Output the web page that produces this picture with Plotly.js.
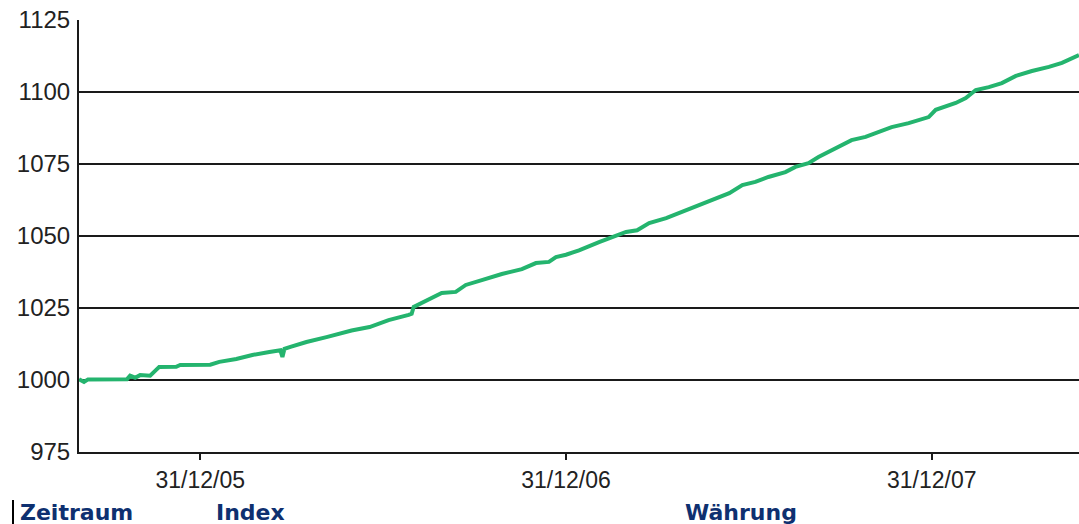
<!DOCTYPE html>
<html>
<head>
<meta charset="utf-8">
<script src="https://cdn.plot.ly/plotly-3.0.1.min.js"></script>
<style>
  html, body { margin: 0; padding: 0; background: #ffffff; }
  #chart { width: 1079px; height: 524px; }
</style>
</head>
<body>
<div id="chart"></div>
<script>
// Data
var dates = [
  "2005-09-01","2005-09-06","2005-09-10","2005-10-19","2005-10-22","2005-10-27",
  "2005-11-01","2005-11-11","2005-11-17","2005-11-20","2005-12-07","2005-12-11",
  "2006-01-10","2006-01-19","2006-02-05","2006-02-21","2006-03-10","2006-03-21",
  "2006-03-23","2006-03-25","2006-03-31","2006-04-16","2006-05-06","2006-05-20",
  "2006-05-31","2006-06-18","2006-07-07","2006-07-27","2006-07-30","2006-08-01",
  "2006-08-13","2006-08-29","2006-09-12","2006-09-22","2006-10-08","2006-10-28",
  "2006-11-17","2006-12-01","2006-12-14","2006-12-21","2006-12-31","2007-01-13",
  "2007-02-02","2007-02-22","2007-03-01","2007-03-12","2007-03-24","2007-04-10",
  "2007-04-23","2007-05-06","2007-05-20","2007-06-02","2007-06-12","2007-06-25",
  "2007-07-08","2007-07-21","2007-08-07","2007-08-17","2007-08-30","2007-09-09",
  "2007-09-19","2007-10-12","2007-10-26","2007-11-08","2007-11-21","2007-12-08",
  "2007-12-28","2008-01-04","2008-01-24","2008-02-03","2008-02-13","2008-02-26",
  "2008-03-10","2008-03-24","2008-04-09","2008-04-26","2008-05-09","2008-05-26"
];
var indexValues = [
  1000.3, 999.3, 1000.2, 1000.3, 1001.5, 1000.8,
  1001.7, 1001.5, 1003.5, 1004.5, 1004.6, 1005.2,
  1005.3, 1006.3, 1007.3, 1008.7, 1009.7, 1010.3,
  1008.0, 1010.8, 1011.5, 1013.2, 1014.9, 1016.3,
  1017.2, 1018.4, 1020.8, 1022.6, 1023.0, 1025.4,
  1027.4, 1030.2, 1030.6, 1033.0, 1034.7, 1036.8,
  1038.5, 1040.6, 1041.0, 1042.7, 1043.5, 1045.0,
  1047.9, 1050.3, 1051.4, 1052.0, 1054.5, 1056.2,
  1058.0, 1059.7, 1061.5, 1063.2, 1064.9, 1067.7,
  1068.8, 1070.5, 1072.2, 1074.0, 1075.3, 1077.4,
  1079.2, 1083.3, 1084.4, 1086.1, 1087.8, 1089.2,
  1091.3, 1093.8, 1096.2, 1097.9, 1100.7, 1101.7,
  1103.1, 1105.6, 1107.3, 1108.7, 1110.1, 1112.8
];
var xTickVals = ["2005-12-31", "2006-12-31", "2007-12-31"];
var xTickText = ["31/12/05", "31/12/06", "31/12/07"];
var yTickVals = [975, 1000, 1025, 1050, 1075, 1100, 1125];
var footerLabels = ["Zeitraum", "Index", "Währung"];

var trace = {
  x: dates,
  y: indexValues,
  type: "scatter",
  mode: "lines",
  line: { color: "#24b46e", width: 4 },
  hoverinfo: "skip",
  showlegend: false
};

// pixel helpers for the footer row (plot area: x 79..1079, y 20..452)
function px(x) { return (x - 79) / 1000; }
function py(y) { return (452 - y) / 432; }

var footerX = [18, 214, 683];
var annotations = footerLabels.map(function (t, i) {
  return {
    text: t, xref: "paper", yref: "paper",
    x: px(footerX[i]), y: py(512), xanchor: "left", yanchor: "middle",
    showarrow: false,
    font: { family: "DejaVu Sans, Verdana, sans-serif", size: 22, color: "#0e3070", weight: "bold" }
  };
});

var layout = {
  width: 1079, height: 524,
  margin: { l: 79, r: 0, t: 20, b: 72, pad: 0 },
  paper_bgcolor: "#ffffff",
  plot_bgcolor: "#ffffff",
  xaxis: {
    type: "date",
    range: ["2005-09-01", "2008-05-26"],
    tickmode: "array",
    tickvals: xTickVals,
    ticktext: xTickText,
    ticks: "outside", ticklen: 6, tickwidth: 2, tickcolor: "#1a1a1a",
    showgrid: false, zeroline: false,
    showline: true, linecolor: "#1a1a1a", linewidth: 2,
    tickfont: { family: "Liberation Sans, Arial, sans-serif", size: 23, color: "#222222" },
    fixedrange: true
  },
  yaxis: {
    range: [975, 1125],
    tickmode: "array",
    tickvals: yTickVals,
    ticks: "",
    showgrid: true, gridcolor: "#1a1a1a", gridwidth: 2,
    zeroline: false,
    showline: true, linecolor: "#1a1a1a", linewidth: 2,
    tickfont: { family: "Liberation Sans, Arial, sans-serif", size: 24, color: "#222222" },
    ticklabelstandoff: 2,
    fixedrange: true
  },
  annotations: annotations,
  shapes: [{
    type: "line", xref: "paper", yref: "paper",
    x0: px(13), x1: px(13), y0: py(500), y1: py(524),
    line: { color: "#000000", width: 2 }
  }]
};

Plotly.newPlot("chart", [trace], layout, { displayModeBar: false, staticPlot: true });
</script>
</body>
</html>
